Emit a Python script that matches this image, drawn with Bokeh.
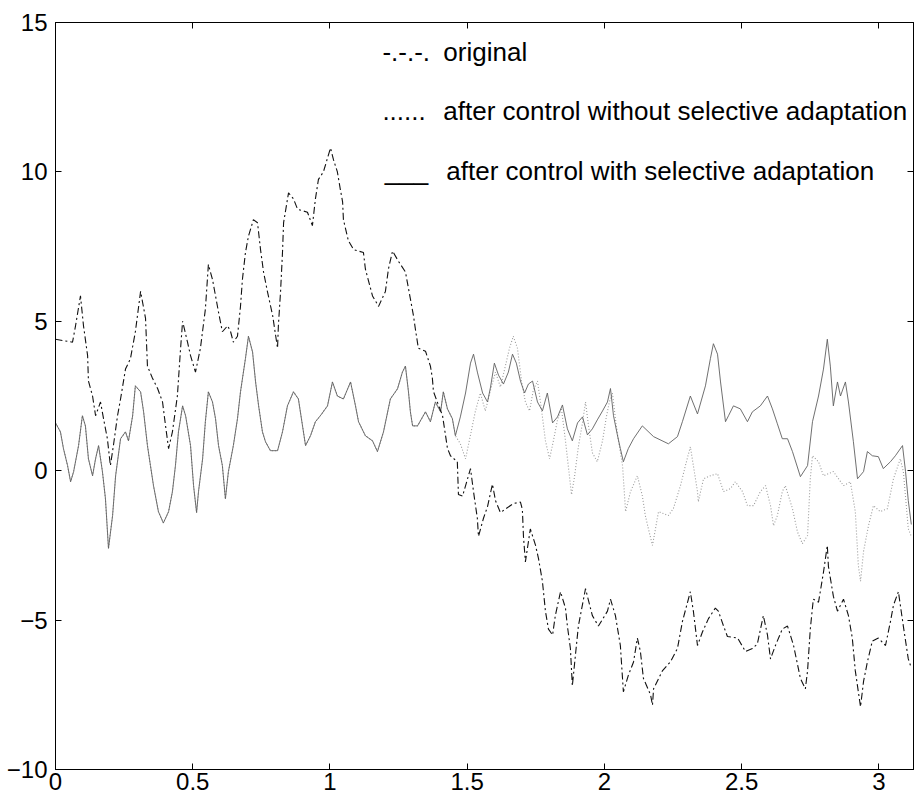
from bokeh.plotting import figure
from bokeh.models import Range1d, LinearAxis, FixedTicker, Label
from bokeh.embed import file_html
from bokeh.resources import INLINE

# ---- data ----
t_orig = [0.000, 0.062, 0.073, 0.091, 0.102, 0.117, 0.120, 0.135, 0.146, 0.164,
          0.175, 0.189, 0.200, 0.211, 0.226, 0.237, 0.255, 0.273, 0.291, 0.310,
          0.328, 0.335, 0.353, 0.372, 0.390, 0.401, 0.412, 0.426, 0.444, 0.455,
          0.463, 0.481, 0.492, 0.510, 0.528, 0.546, 0.557, 0.572, 0.583, 0.594,
          0.608, 0.627, 0.638, 0.648, 0.663, 0.674, 0.681, 0.692, 0.703, 0.721,
          0.736, 0.747, 0.758, 0.772, 0.791, 0.809, 0.812, 0.820, 0.827, 0.831,
          0.849, 0.867, 0.882, 0.918, 0.936, 0.947, 0.958, 0.976, 1.002, 1.013,
          1.027, 1.038, 1.046, 1.049, 1.067, 1.086, 1.122, 1.129, 1.155, 1.177,
          1.202, 1.213, 1.228, 1.250, 1.275, 1.293, 1.304, 1.311, 1.322, 1.348,
          1.366, 1.373, 1.377, 1.395, 1.410, 1.428, 1.439, 1.464, 1.468, 1.483,
          1.512, 1.523, 1.537, 1.541, 1.559, 1.574, 1.592, 1.603, 1.621, 1.668,
          1.694, 1.701, 1.705, 1.712, 1.730, 1.749, 1.760, 1.774, 1.785, 1.796,
          1.811, 1.821, 1.840, 1.858, 1.865, 1.876, 1.883, 1.894, 1.905, 1.931,
          1.956, 1.978, 2.011, 2.022, 2.040, 2.058, 2.069, 2.087, 2.106, 2.120,
          2.131, 2.142, 2.168, 2.175, 2.179, 2.211, 2.240, 2.266, 2.284, 2.313,
          2.324, 2.339, 2.357, 2.379, 2.404, 2.415, 2.434, 2.448, 2.485, 2.514,
          2.539, 2.557, 2.579, 2.594, 2.605, 2.623, 2.648, 2.667, 2.689, 2.714,
          2.732, 2.740, 2.750, 2.761, 2.780, 2.798, 2.812, 2.816, 2.834, 2.849,
          2.871, 2.889, 2.903, 2.914, 2.933, 2.944, 2.958, 2.976, 2.998, 3.024,
          3.042, 3.053, 3.071, 3.089, 3.107, 3.118]
y_orig = [4.4, 4.3, 4.85, 5.85, 4.85, 3.85, 3.0, 2.5, 1.84, 2.3,
          1.74, 1.07, 0.17, 0.84, 1.84, 2.4, 3.4, 3.75, 4.65, 6.0,
          5.1, 3.5, 3.1, 2.75, 2.3, 1.5, 0.74, 1.3, 2.5, 4.0,
          5.0, 4.3, 3.85, 3.3, 4.1, 5.4, 6.9, 6.4, 5.85, 5.3,
          4.65, 4.85, 4.65, 4.3, 4.5, 5.5, 6.4, 7.3, 7.85, 8.4,
          8.3, 7.4, 6.65, 6.0, 5.2, 4.1, 4.85, 6.0, 7.3, 8.3,
          9.3, 9.1, 8.75, 8.65, 8.2, 9.1, 9.75, 10.0, 10.8, 10.4,
          10.0, 9.4, 9.0, 8.4, 7.7, 7.4, 7.3, 6.75, 5.85, 5.5,
          6.0, 6.75, 7.35, 7.0, 6.65, 5.75, 5.2, 4.75, 4.1, 4.0,
          3.5, 3.1, 2.65, 2.2, 1.85, 0.75, 0.5, 0.3, -0.8, -0.85,
          0.07, -0.7, -1.6, -2.2, -1.6, -1.2, -0.45, -1.0, -1.4, -1.1,
          -1.05, -1.3, -2.2, -3.05, -1.95, -2.5, -2.95, -3.7, -4.7, -5.3,
          -5.5, -4.85, -4.05, -4.6, -5.2, -5.95, -7.2, -6.2, -5.2, -3.95,
          -4.85, -5.2, -4.7, -4.3, -4.85, -5.85, -7.4, -6.85, -6.4, -5.6,
          -6.05, -6.95, -7.5, -7.85, -7.3, -6.7, -6.4, -5.95, -5.05, -4.05,
          -4.7, -5.85, -5.4, -4.95, -4.6, -4.7, -5.2, -5.55, -5.6, -6.05,
          -5.95, -5.8, -4.85, -5.5, -6.3, -5.85, -5.3, -5.2, -5.85, -6.95,
          -7.3, -6.7, -5.3, -4.3, -4.4, -3.4, -2.5, -3.2, -4.2, -4.7,
          -4.3, -4.85, -5.6, -6.7, -7.9, -7.05, -6.4, -5.7, -5.6, -5.85,
          -5.05, -4.5, -4.05, -5.2, -6.3, -6.6]

# both controlled responses coincide in the first part
t_common = [0.000, 0.018, 0.029, 0.044, 0.055, 0.066, 0.084, 0.098, 0.109, 0.120,
            0.135, 0.146, 0.157, 0.171, 0.182, 0.193, 0.208, 0.219, 0.237, 0.255,
            0.266, 0.281, 0.291, 0.310, 0.321, 0.335, 0.346, 0.357, 0.375, 0.393,
            0.412, 0.426, 0.437, 0.448, 0.463, 0.474, 0.492, 0.503, 0.514, 0.521,
            0.536, 0.546, 0.557, 0.572, 0.583, 0.594, 0.608, 0.619, 0.630, 0.648,
            0.663, 0.674, 0.692, 0.703, 0.718, 0.729, 0.740, 0.754, 0.765, 0.783,
            0.809, 0.827, 0.845, 0.867, 0.885, 0.900, 0.911, 0.929, 0.947, 0.965,
            0.991, 1.009, 1.027, 1.049, 1.075, 1.093, 1.104, 1.129, 1.155, 1.173,
            1.195, 1.220, 1.246, 1.264, 1.275, 1.286, 1.293, 1.301, 1.319, 1.348,
            1.366, 1.384, 1.403, 1.413, 1.428, 1.446, 1.457]
y_common = [1.6, 1.3, 0.74, 0.17, -0.37, -0.03, 0.84, 1.84, 1.5, 0.4,
            -0.17, 0.4, 0.84, -0.03, -0.94, -2.6, -1.5, -0.17, 1.07, 1.3,
            1.0, 1.84, 2.84, 2.64, 1.97, 0.84, 0.17, -0.5, -1.37, -1.75,
            -1.37, -0.7, 0.17, 1.3, 2.17, 1.84, 0.84, -0.5, -1.4, -0.7,
            0.4, 1.64, 2.64, 2.3, 1.74, 0.84, 0.17, -0.94, -0.03, 0.84,
            1.74, 2.64, 3.75, 4.5, 3.97, 2.97, 2.17, 1.3, 0.97, 0.67,
            0.67, 1.3, 2.17, 2.64, 2.4, 1.5, 0.84, 1.17, 1.64, 1.84,
            2.17, 2.97, 2.5, 2.4, 2.97, 2.17, 1.64, 1.17, 1.0, 0.64,
            1.3, 2.4, 2.74, 3.3, 3.5, 2.64, 1.97, 1.5, 1.5, 1.97,
            1.64, 2.3, 1.97, 2.64, 2.07, 1.74, 1.17]

t_sel_tail = [1.475, 1.494, 1.512, 1.523, 1.537, 1.556, 1.574, 1.585, 1.599, 1.614,
              1.632, 1.650, 1.665, 1.679, 1.694, 1.709, 1.723, 1.738, 1.756, 1.774,
              1.792, 1.811, 1.829, 1.847, 1.865, 1.883, 1.902, 1.920, 1.938, 1.956,
              1.974, 1.993, 2.011, 2.022, 2.033, 2.047, 2.058, 2.069, 2.087, 2.106,
              2.138, 2.179, 2.233, 2.266, 2.284, 2.313, 2.339, 2.368, 2.386, 2.397,
              2.412, 2.423, 2.441, 2.452, 2.470, 2.495, 2.521, 2.539, 2.568, 2.594,
              2.612, 2.630, 2.648, 2.667, 2.685, 2.714, 2.740, 2.758, 2.780, 2.798,
              2.812, 2.823, 2.834, 2.849, 2.860, 2.878, 2.889, 2.907, 2.922, 2.944,
              2.958, 2.976, 2.998, 3.016, 3.042, 3.060, 3.086, 3.097, 3.107, 3.118]
y_sel_tail = [1.8, 2.6, 3.6, 3.9, 3.3, 2.6, 2.3, 2.8, 3.6, 3.2,
              2.9, 3.3, 3.9, 3.6, 3.0, 2.6, 2.9, 3.0, 2.3, 2.0,
              2.6, 1.6, 1.8, 2.2, 1.4, 1.0, 1.6, 1.8, 1.2, 1.4,
              1.7, 2.0, 2.3, 2.75, 1.84, 1.2, 0.74, 0.3, 0.74, 1.07,
              1.5, 1.14, 0.9, 1.14, 1.64, 2.5, 1.9, 2.84, 3.75, 4.25,
              3.9, 2.97, 1.64, 1.84, 2.17, 2.07, 1.64, 1.97, 2.17, 2.5,
              2.07, 1.57, 1.07, 1.07, 0.64, -0.2, 0.17, 1.64, 2.5, 3.4,
              4.4, 3.5, 2.17, 2.97, 2.5, 2.97, 2.3, 0.97, -0.27, -0.03,
              0.64, 0.5, 0.47, 0.07, 0.3, 0.5, 0.84, -0.03, -1.0, -1.8]

t_nosel_tail = [1.475, 1.494, 1.512, 1.530, 1.548, 1.566, 1.585, 1.603, 1.621, 1.639,
                1.654, 1.668, 1.683, 1.698, 1.712, 1.727, 1.741, 1.756, 1.770, 1.785,
                1.800, 1.814, 1.829, 1.843, 1.858, 1.869, 1.880, 1.891, 1.905, 1.920,
                1.931, 1.942, 1.956, 1.974, 1.993, 2.007, 2.018, 2.029, 2.040, 2.051,
                2.066, 2.077, 2.095, 2.120, 2.138, 2.149, 2.160, 2.175, 2.186, 2.197,
                2.233, 2.251, 2.277, 2.295, 2.313, 2.324, 2.339, 2.342, 2.361, 2.386,
                2.412, 2.434, 2.459, 2.477, 2.503, 2.521, 2.543, 2.568, 2.587, 2.605,
                2.616, 2.630, 2.648, 2.659, 2.685, 2.703, 2.721, 2.740, 2.750, 2.758,
                2.780, 2.798, 2.834, 2.871, 2.896, 2.914, 2.925, 2.933, 2.944, 2.962,
                2.980, 3.005, 3.031, 3.053, 3.078, 3.089, 3.107, 3.118]
y_nosel_tail = [0.9, 0.4, 1.2, 2.0, 2.6, 2.0, 2.7, 3.3, 2.8, 3.5,
                4.1, 4.5, 4.1, 3.0, 2.3, 2.0, 2.7, 3.0, 2.1, 1.0,
                0.4, 1.0, 1.7, 2.1, 1.0, 0.1, -0.8, -0.2, 0.8, 1.6,
                2.3, 1.5, 0.6, 0.3, 1.0, 1.8, 2.3, 2.6, 1.74, 1.0,
                0.17, -1.37, -0.7, -0.17, -0.84, -1.5, -1.94, -2.5, -1.94, -1.37,
                -1.5, -1.27, -0.5, 0.17, 0.8, 0.17, -0.7, -1.04, -0.27, -0.17,
                -0.1, -0.7, -0.6, -0.37, -0.7, -1.17, -1.17, -0.7, -0.5, -1.17,
                -1.84, -1.5, -0.7, -0.5, -1.27, -2.04, -2.44, -2.17, -0.27, 0.5,
                0.3, -0.17, -0.03, -0.5, -0.37, -1.37, -3.17, -3.7, -2.7, -1.84,
                -1.17, -1.37, -1.27, -0.27, 0.4, -0.03, -1.94, -2.2]

x_ticks = [0, 0.5, 1, 1.5, 2, 2.5, 3]
y_ticks = [-10, -5, 0, 5, 10, 15]

legend_marks = ["-.-.-.", "......", "___"]
legend_texts = ["original",
                "after control without selective adaptation",
                "after control with selective adaptation"]
legend_y = [14.0, 12.03, 10.03]
legend_mark_x = [1.191, 1.191, 1.200]
legend_text_x = [1.413, 1.413, 1.424]

FONT = "Liberation Sans"

p = figure(width=914, height=800, x_range=Range1d(0, 3.126), y_range=Range1d(-10, 15),
           output_backend="svg", toolbar_location=None,
           min_border_left=55, min_border_right=1, min_border_top=22, min_border_bottom=31)
p.background_fill_color = "white"
p.border_fill_color = "white"
p.outline_line_color = "black"
p.grid.visible = False


def style_axis(ax, ticks, show_labels):
    ax.ticker = FixedTicker(ticks=ticks)
    ax.major_tick_in = 6
    ax.major_tick_out = 0
    ax.minor_tick_line_color = None
    ax.axis_line_color = "black"
    ax.major_tick_line_color = "black"
    ax.major_label_text_font = FONT
    if show_labels:
        ax.major_label_text_font_size = "24px"
        ax.major_label_text_color = "black"
    else:
        ax.major_label_text_font_size = "0px"
        ax.major_label_text_color = None
        ax.major_label_standoff = 0


style_axis(p.xaxis[0], x_ticks, True)
p.xaxis[0].major_label_standoff = 3
style_axis(p.yaxis[0], y_ticks, True)
p.yaxis[0].major_label_standoff = 8

top_ax = LinearAxis()
style_axis(top_ax, x_ticks, False)
p.add_layout(top_ax, "above")
right_ax = LinearAxis()
style_axis(right_ax, y_ticks, False)
p.add_layout(right_ax, "right")

t_nosel = t_common + t_nosel_tail
y_nosel = y_common + y_nosel_tail
t_sel = t_common + t_sel_tail
y_sel = y_common + y_sel_tail

p.line(t_nosel, y_nosel, line_color="#9a9a9a", line_width=1.1, line_dash="1 2")
p.line(t_sel, y_sel, line_color="#606060", line_width=0.9)
p.line(t_orig, y_orig, line_color="#111111", line_width=1.1, line_dash="7 3 2 3")

for mark, txt, yy, mx, tx in zip(legend_marks, legend_texts, legend_y,
                                 legend_mark_x, legend_text_x):
    p.add_layout(Label(x=mx, y=yy, text=mark, text_font=FONT, text_font_size="26px",
                       text_color="black", text_baseline="middle", text_align="left"))
    p.add_layout(Label(x=tx, y=yy, text=txt, text_font=FONT, text_font_size="26px",
                       text_color="black", text_baseline="middle", text_align="left"))

open("out.html", "w").write(file_html(p, INLINE))
